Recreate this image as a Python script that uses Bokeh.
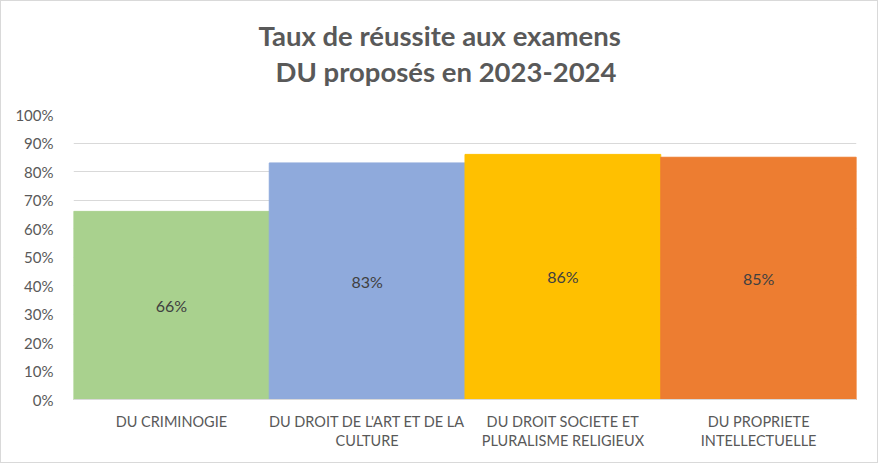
from bokeh.plotting import figure
from bokeh.models import ColumnDataSource, NumeralTickFormatter, FixedTicker, Span, Title
from bokeh.core.properties import value
from bokeh.embed import file_html
from bokeh.resources import INLINE

title_lines = ["Taux de réussite aux examens", "DU proposés en 2023-2024"]
categories = ["DU CRIMINOGIE", "DU DROIT DE L'ART ET DE LA CULTURE",
              "DU DROIT SOCIETE ET PLURALISME RELIGIEUX", "DU PROPRIETE INTELLECTUELLE"]
tick_labels = ["DU CRIMINOGIE", "DU DROIT DE L'ART ET DE LA\nCULTURE",
               "DU DROIT SOCIETE ET\nPLURALISME RELIGIEUX", "DU PROPRIETE\nINTELLECTUELLE"]
rates = [0.66, 0.83, 0.86, 0.85]
colors = ["#A9D18E", "#8FAADC", "#FFC000", "#ED7D31"]
y_ticks = [0, 0.1, 0.2, 0.3, 0.4, 0.5, 0.6, 0.7, 0.8, 0.9, 1.0]

src = ColumnDataSource(dict(
    cat=categories, rate=rates, color=colors,
    mid=[r / 2 for r in rates],
    label=[f"{round(r * 100)}%" for r in rates],
    tick=tick_labels,
    zero=[0] * len(categories),
))

p = figure(width=878, height=463, x_range=categories, y_range=(-0.2, 1.0),
           output_backend="svg", toolbar_location=None,
           min_border_left=72, min_border_right=23, min_border_top=113, min_border_bottom=8)
p.styles = {"border": "1px solid #d9d9d9"}

def title_style(t):
    t.align = "left"
    t.text_font = "Lato"
    t.text_font_style = "bold"
    t.text_font_size = "27.5px"
    t.text_color = "#595959"

p.title.text = title_lines[0]
title_style(p.title)
p.title.offset = 185
p.title.standoff = -50

t2 = Title(text=title_lines[1])
title_style(t2)
t2.offset = 202
t2.standoff = 53
p.add_layout(t2, "above")

p.vbar(x="cat", top="rate", width=1.0, color="color", source=src)
p.text(x="cat", y="mid", text="label", source=src, text_align="center", text_baseline="middle",
       text_font=value("Lato"), text_font_size="16px", text_color="#404040")
p.text(x="cat", y="zero", text="tick", source=src, y_offset=13,
       text_align="center", text_baseline="top", text_font=value("Lato"),
       text_font_size="14.5px", text_color="#595959", text_line_height=1.15)
p.add_layout(Span(location=0, dimension="width", line_color="#d9d9d9", line_width=1))

p.outline_line_color = None
p.xgrid.grid_line_color = None
p.ygrid.grid_line_color = "#d9d9d9"
p.yaxis.ticker = FixedTicker(ticks=y_ticks)
p.yaxis.formatter = NumeralTickFormatter(format="0%")
p.yaxis.axis_line_color = None
p.yaxis.major_tick_line_color = None
p.yaxis.minor_tick_line_color = None
p.yaxis.major_label_text_font = "Lato"
p.yaxis.major_label_text_font_size = "15px"
p.yaxis.major_label_text_color = "#595959"
p.yaxis.major_label_standoff = 14

p.xaxis.visible = False
p.x_range.range_padding = 0

open("out.html", "w").write(file_html(p, INLINE))
